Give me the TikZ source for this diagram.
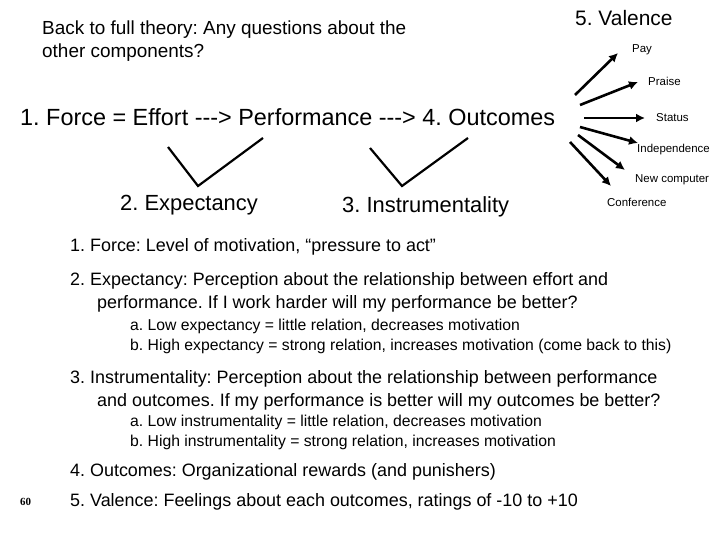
\documentclass[tikz,border=0pt]{standalone}
\usepackage{fontspec}
\usetikzlibrary{arrows.meta}
\setmainfont{Liberation Sans}
\newfontfamily\serifb{Liberation Serif}
\begin{document}
\frenchspacing
\begin{tikzpicture}[x=1bp,y=-1bp,
  tx/.style={anchor=base west,inner sep=0pt},
  body/.style={tx,font=\fontsize{18}{20}\selectfont},
  sub/.style={tx,font=\fontsize{15.8}{17}\selectfont},
  lab/.style={anchor=base west,inner sep=0pt,font=\fontsize{11.5}{13}\selectfont},
  arr/.style={line width=2.6pt,-{Latex[length=9pt,width=9pt]}},
  vee/.style={line width=2.2pt}]
\useasboundingbox (0,0) rectangle (720,540);
\node[tx,font=\fontsize{19}{20}\selectfont] (t1) at (42,35) {Back to full theory: Any questions about the};
\node[tx,font=\fontsize{19}{20}\selectfont] (t2) at (42,58) {other components?};
\node[tx,font=\fontsize{21}{24}\selectfont] (val) at (575,26) {5. Valence};
\node[tx,font=\fontsize{23.5}{26}\selectfont] (main) at (20,126) {1. Force = Effort -{}-{}-> Performance -{}-{}-> 4. Outcomes};
\coordinate (o1) at (575,95);
\coordinate (o2) at (580,105);
\coordinate (o3) at (584,118);
\coordinate (o4) at (580,127);
\coordinate (o5) at (578,135);
\coordinate (o6) at (570,142);
\node[lab] (pay) at (632,53) {Pay};
\node[lab] (pr) at (648,86) {Praise};
\node[lab] (st) at (656,122) {Status};
\node[lab] (ind) at (637,153) {Independence};
\node[lab] (nc) at (635,183) {New computer};
\node[lab] (conf) at (607,207) {Conference};
\draw[arr] (o1) -- (618,53);
\draw[arr] (o2) -- (638,82);
\draw[arr] (o3) -- (645,118);
\draw[arr] (o4) -- (638,143);
\draw[arr] (o5) -- (625,170);
\draw[arr] (o6) -- (611,186);
\coordinate (v1a) at (168,147); \coordinate (v1b) at (198,186); \coordinate (v1c) at (263,138);
\coordinate (v2a) at (370,148); \coordinate (v2b) at (402,186); \coordinate (v2c) at (468,138);
\draw[vee] (v1a) -- (v1b) -- (v1c);
\draw[vee] (v2a) -- (v2b) -- (v2c);
\node[tx,font=\fontsize{22}{24}\selectfont] (exp) at (120,211) {2. Expectancy};
\node[tx,font=\fontsize{22}{24}\selectfont] (ins) at (342,213) {3. Instrumentality};
\node[body] (l1) at (70,252) {1. Force: Level of motivation, “pressure to act”};
\node[body] (l2) at (70,286) {2. Expectancy: Perception about the relationship between effort and};
\node[body] (l3) at (97,308) {performance. If I work harder will my performance be better?};
\node[sub] (l4) at (130,330) {a. Low expectancy = little relation, decreases motivation};
\node[sub] (l5) at (130,350) {b. High expectancy = strong relation, increases motivation (come back to this)};
\node[body] (l6) at (70,383) {3. Instrumentality: Perception about the relationship between performance};
\node[body] (l7) at (97,406) {and outcomes. If my performance is better will my outcomes be better?};
\node[sub] (l8) at (130,426) {a. Low instrumentality = little relation, decreases motivation};
\node[sub] (l9) at (130,446) {b. High instrumentality = strong relation, increases motivation};
\node[body] (l10) at (70,476) {4. Outcomes: Organizational rewards (and punishers)};
\node[body] (l11) at (70,506) {5. Valence: Feelings about each outcomes, ratings of -10 to +10};
\node[tx,font=\serifb\bfseries\fontsize{11}{13}\selectfont] (pg) at (20,505) {60};
\end{tikzpicture}
\end{document}
